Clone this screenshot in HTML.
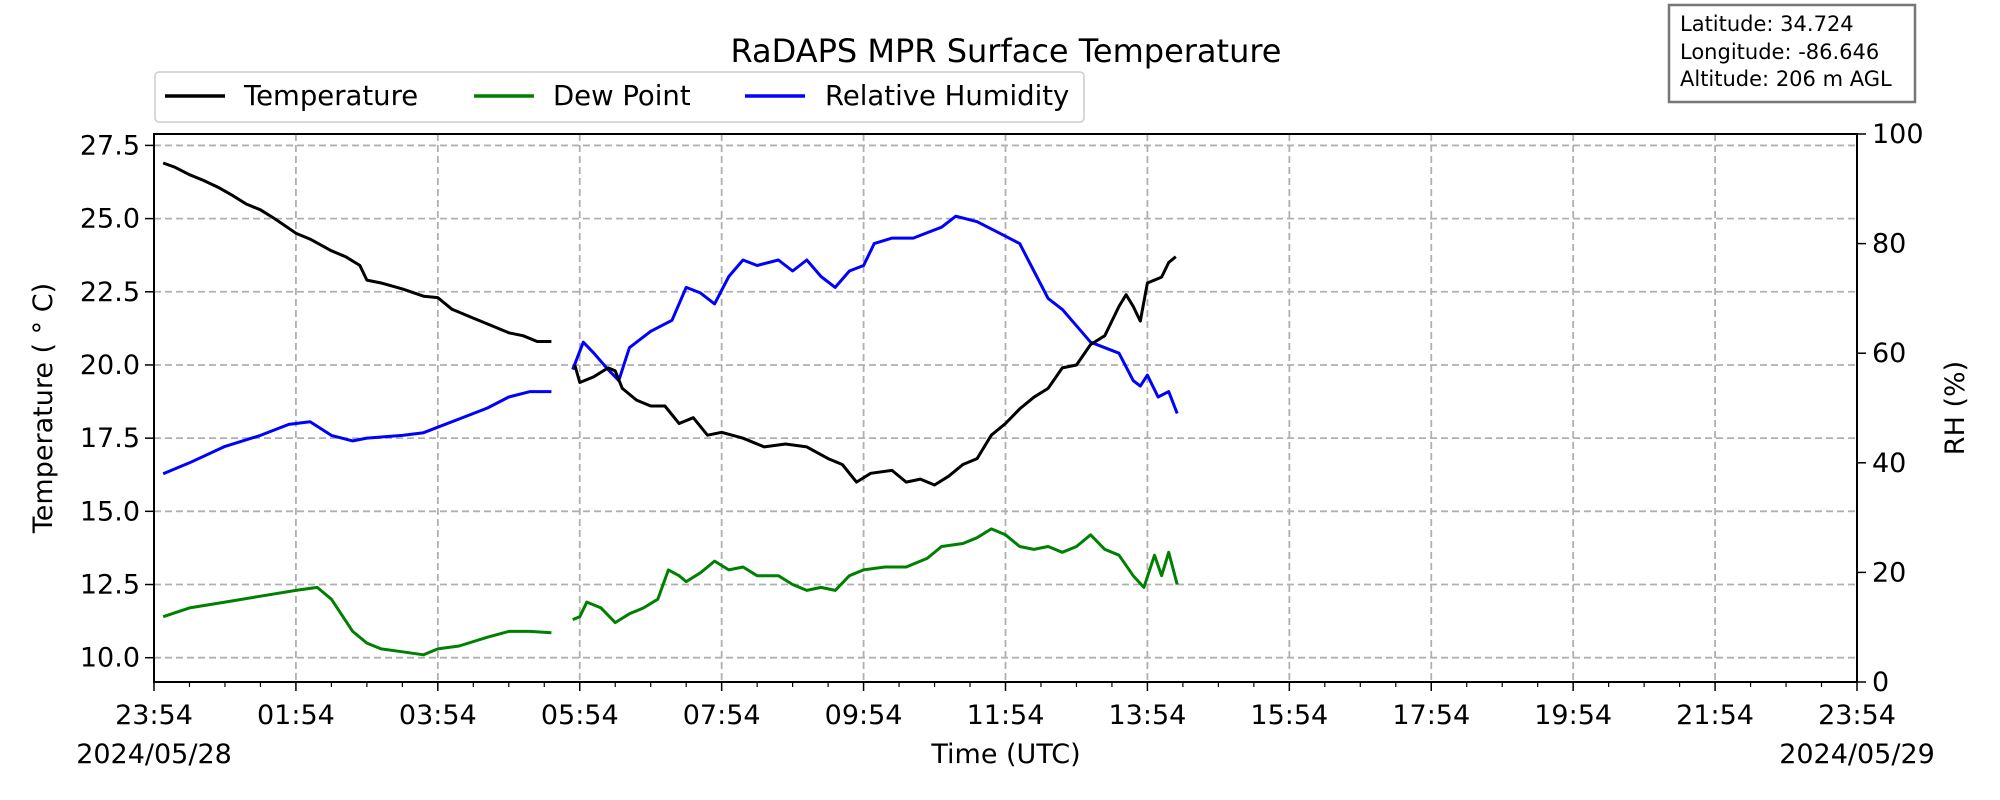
<!DOCTYPE html>
<html><head><meta charset="utf-8"><style>
html,body{margin:0;padding:0;background:#fff;}
svg{display:block;font-family:"DejaVu Sans","Liberation Sans",sans-serif;}
</style></head><body>
<svg id="chart" width="2000" height="800" viewBox="0 0 2000 800" xmlns="http://www.w3.org/2000/svg">
<text x="1006" y="62" font-size="32" text-anchor="middle">RaDAPS MPR Surface Temperature</text>
<g>
<rect x="1669" y="5" width="246" height="97" fill="#fff" stroke="#777" stroke-width="2.5"/>
<text x="1680" y="31" font-size="21">Latitude: 34.724</text>
<text x="1680" y="59" font-size="21">Longitude: -86.646</text>
<text x="1680" y="86" font-size="21">Altitude: 206 m AGL</text>
</g>
<g>
<rect x="155" y="72" width="929" height="50" rx="4" fill="#fff" stroke="#ccc" stroke-width="1.5"/>
<g><line x1="165" y1="96" x2="225" y2="96" stroke="#000" stroke-width="3.5"/><text x="244" y="105" font-size="27.5">Temperature</text></g>
<g><line x1="474" y1="96" x2="534" y2="96" stroke="green" stroke-width="3.5"/><text x="553" y="105" font-size="27.5">Dew Point</text></g>
<g><line x1="745" y1="96" x2="805" y2="96" stroke="blue" stroke-width="3.5"/><text x="825" y="105" font-size="27.5">Relative Humidity</text></g>
</g>
<g id="grid"></g>
<g id="series"></g>
<g id="axes"></g>
<text x="1006" y="763" font-size="27" text-anchor="middle">Time (UTC)</text>
<text x="154" y="763" font-size="27" text-anchor="middle">2024/05/28</text>
<text x="1857" y="763" font-size="27" text-anchor="middle">2024/05/29</text>
<text transform="translate(52,408) rotate(-90)" font-size="27" text-anchor="middle">Temperature ( ° C)</text>
<text transform="translate(1964,408) rotate(-90)" font-size="27" text-anchor="middle">RH (%)</text>
</svg>
<script>
const xTickLabels=["23:54","01:54","03:54","05:54","07:54","09:54","11:54","13:54","15:54","17:54","19:54","21:54","23:54"];
const tTicks=[10.0,12.5,15.0,17.5,20.0,22.5,25.0,27.5];
const rhTicks=[0,20,40,60,80,100];
const tempH1=[0.13,0.3,0.5,0.7,0.92,1.1,1.3,1.5,1.7,2.0,2.2,2.5,2.7,2.9,3.0,3.2,3.5,3.8,4.0,4.2,4.5,4.8,5.0,5.2,5.4,5.6];
const tempV1=[26.9,26.75,26.5,26.3,26.05,25.8,25.5,25.3,25.0,24.5,24.3,23.9,23.7,23.4,22.9,22.8,22.6,22.35,22.3,21.9,21.6,21.3,21.1,21.0,20.8,20.8];
const tempH2=[5.93,6.0,6.2,6.4,6.5,6.6,6.8,7.0,7.2,7.4,7.6,7.8,8.0,8.3,8.6,8.9,9.2,9.5,9.7,9.9,10.1,10.4,10.6,10.8,11.0,11.2,11.4,11.6,11.8,12.0,12.2,12.4,12.6,12.8,13.0,13.2,13.4,13.6,13.7,13.8,13.9,14.0,14.2,14.3,14.4];
const tempV2=[20.0,19.4,19.6,19.9,19.8,19.2,18.8,18.6,18.6,18.0,18.2,17.6,17.7,17.5,17.2,17.3,17.2,16.8,16.6,16.0,16.3,16.4,16.0,16.1,15.9,16.2,16.6,16.8,17.6,18.0,18.5,18.9,19.2,19.9,20.0,20.7,21.0,22.0,22.4,22.0,21.5,22.8,23.0,23.5,23.7];
const dewH1=[0.13,0.5,1.0,1.5,2.0,2.3,2.5,2.8,3.0,3.2,3.5,3.8,4.0,4.3,4.7,5.0,5.3,5.6];
const dewV1=[11.4,11.7,11.9,12.1,12.3,12.4,12.0,10.9,10.5,10.3,10.2,10.1,10.3,10.4,10.7,10.9,10.9,10.85];
const dewH2=[5.9,6.0,6.1,6.3,6.5,6.7,6.9,7.1,7.25,7.4,7.5,7.7,7.9,8.1,8.3,8.5,8.8,9.0,9.2,9.4,9.6,9.8,10.0,10.3,10.6,10.9,11.1,11.4,11.6,11.8,12.0,12.2,12.4,12.6,12.8,13.0,13.2,13.4,13.6,13.8,13.95,14.1,14.2,14.3,14.42];
const dewV2=[11.3,11.4,11.9,11.7,11.2,11.5,11.7,12.0,13.0,12.8,12.6,12.9,13.3,13.0,13.1,12.8,12.8,12.5,12.3,12.4,12.3,12.8,13.0,13.1,13.1,13.4,13.8,13.9,14.1,14.4,14.2,13.8,13.7,13.8,13.6,13.8,14.2,13.7,13.5,12.8,12.4,13.5,12.8,13.6,12.5];
const rhH1=[0.13,0.5,1.0,1.5,1.9,2.2,2.5,2.8,3.0,3.5,3.8,4.0,4.3,4.7,5.0,5.3,5.6];
const rhV1=[38,40,43,45,47,47.5,45,44,44.5,45,45.5,46.5,48,50,52,53,53];
const rhH2=[5.9,6.05,6.2,6.4,6.55,6.7,7.0,7.3,7.5,7.7,7.9,8.1,8.3,8.5,8.8,9.0,9.2,9.4,9.6,9.8,10.0,10.15,10.4,10.7,10.9,11.1,11.3,11.6,11.9,12.2,12.4,12.6,12.8,13.0,13.2,13.4,13.6,13.8,13.9,14.0,14.15,14.3,14.42];
const rhV2=[57,62,60,57,55,61,64,66,72,71,69,74,77,76,77,75,77,74,72,75,76,80,81,81,82,83,85,84,82,80,75,70,68,65,62,61,60,55,54,56,52,53,49];

const L=154,R=1857,T=134,B=682;
const tMin=9.17,tMax=27.89;
const xS=h=>L+h/24*(R-L);
const yT=v=>B-(v-tMin)/(tMax-tMin)*(B-T);
const yR=v=>B-v/100*(B-T);
const NS="http://www.w3.org/2000/svg";
function mk(tag,attrs,parent){const e=document.createElementNS(NS,tag);for(const k in attrs)e.setAttribute(k,attrs[k]);parent.appendChild(e);return e;}
const grid=document.getElementById('grid'),series=document.getElementById('series'),axes=document.getElementById('axes');
xTickLabels.forEach((lab,i)=>{
  const x=xS(i*2);
  if(i>0&&i<12){const g=mk('line',{x1:x,x2:x,y1:T,y2:B,stroke:'#b0b0b0','stroke-width':1.8,'stroke-dasharray':'7,4'},grid);
  
  }
  const t=mk('line',{x1:x,x2:x,y1:B,y2:B+9,stroke:'#000','stroke-width':1.5},axes);
  
  
  const tx=mk('text',{x:x,y:B+42,'font-size':27,'text-anchor':'middle'},axes);tx.textContent=lab;
  
  
});
for(let m=0;m<48;m++){if(m%4===0)continue;const x=xS(m*0.5);
  const t=mk('line',{x1:x,x2:x,y1:B,y2:B+5,stroke:'#000','stroke-width':1.2},axes);
  
  }
tTicks.forEach(v=>{const y=yT(v);
  const g=mk('line',{x1:L,x2:R,y1:y,y2:y,stroke:'#b0b0b0','stroke-width':1.8,'stroke-dasharray':'7,4'},grid);
  
  
  const t=mk('line',{x1:L-9,x2:L,y1:y,y2:y,stroke:'#000','stroke-width':1.5},axes);
  
  
  const tx=mk('text',{x:L-14,y:y+9,'font-size':27,'text-anchor':'end'},axes);tx.textContent=v.toFixed(1);
  
  
});
rhTicks.forEach(v=>{const y=yR(v);
  const t=mk('line',{x1:R,x2:R+9,y1:y,y2:y,stroke:'#000','stroke-width':1.5},axes);
  
  
  const tx=mk('text',{x:R+15,y:y+9,'font-size':27},axes);tx.textContent=v;
  
  
});
const frame=mk('rect',{x:L,y:T,width:R-L,height:B-T,fill:'none',stroke:'#000','stroke-width':2},axes);


function line(hs,vs,ys,color,name){
  const d=hs.map((h,i)=>(i?'L':'M')+xS(h).toFixed(1)+','+ys(vs[i]).toFixed(1)).join(' ');
  const p=mk('path',{d:d,fill:'none',stroke:color,'stroke-width':3,'stroke-linejoin':'round'},series);
  
  
}
line(rhH1,rhV1,yR,'blue','rh-line-segment-1');
line(rhH2,rhV2,yR,'blue','rh-line-segment-2');
line(dewH1,dewV1,yT,'green','dew-point-line-segment-1');
line(dewH2,dewV2,yT,'green','dew-point-line-segment-2');
line(tempH1,tempV1,yT,'#000','temperature-line-segment-1');
line(tempH2,tempV2,yT,'#000','temperature-line-segment-2');
</script>
</body></html>
